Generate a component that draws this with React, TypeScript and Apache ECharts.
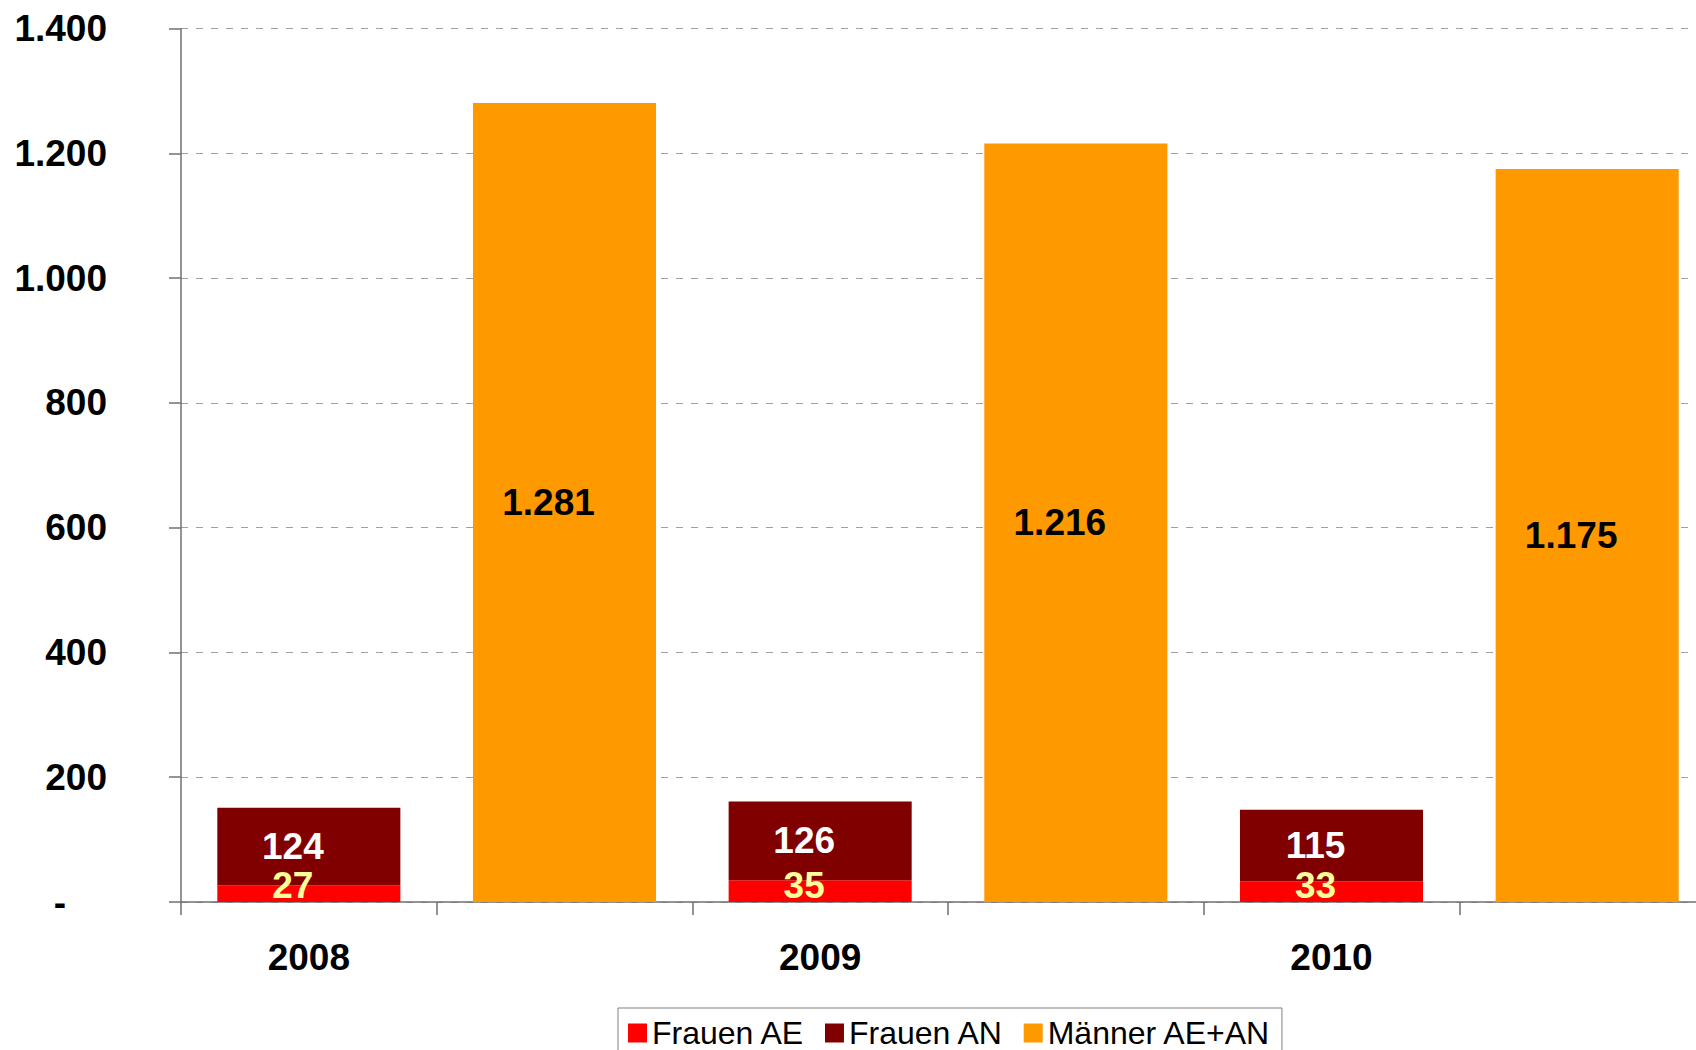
import React, { useEffect, useRef } from "react";
import * as echarts from "echarts";

const years = ["2008", "2009", "2010"];
const frauenAE = [27, 35, 33];
const frauenAN = [124, 126, 115];
const maenner = [1281, 1216, 1175];
const yTicks = [0, 200, 400, 600, 800, 1000, 1200, 1400];
const seriesNames = ["Frauen AE", "Frauen AN", "Männer AE+AN"];

const FONT = "'Liberation Sans', Arial, sans-serif";

function fmt(v: number): string {
  return String(v).replace(/\B(?=(\d{3})+(?!\d))/g, ".");
}

export default function App() {
  const ref = useRef<HTMLDivElement>(null);

  useEffect(() => {
    if (!ref.current) return;
    const chart = echarts.init(ref.current, null, { renderer: "svg" });

    // Each year: one slot for women (stacked), one slot for men
    const categories: string[] = [];
    years.forEach((y) => {
      categories.push(y);
      categories.push(y + "_m");
    });
    const aeData: (number | null)[] = [];
    const anData: (number | null)[] = [];
    const mData: (number | null)[] = [];
    years.forEach((_, i) => {
      aeData.push(frauenAE[i], null);
      anData.push(frauenAN[i], null);
      mData.push(null, maenner[i]);
    });

    const labelBase = {
      show: true,
      fontFamily: FONT,
      fontWeight: "bold" as const,
      fontSize: 37,
      offset: [-16, 0],
      formatter: (p: any) => fmt(p.value),
    };

    chart.setOption({
      animation: false,
      backgroundColor: "#ffffff",
      grid: {
        left: 181,
        top: 28.7,
        right: -19,
        bottom: 1050 - 902,
        containLabel: false,
        outerBoundsMode: "none",
      },
      legend: {
        data: seriesNames,
        left: 618,
        top: 1008,
        icon: "rect",
        itemWidth: 19,
        itemHeight: 19,
        itemGap: 20,
        padding: [9, 11, 3, 10],
        borderColor: "#808080",
        borderWidth: 1,
        textStyle: { fontFamily: FONT, fontSize: 32, color: "#000" },
      },
      xAxis: {
        type: "category",
        data: categories,
        axisLine: { show: true, lineStyle: { color: "#707070", width: 1.5 } },
        axisTick: { show: true, length: 13, lineStyle: { color: "#707070", width: 1.5 } },
        axisLabel: {
          interval: 0,
          margin: 37,
          fontFamily: FONT,
          fontWeight: "bold",
          fontSize: 37,
          color: "#000",
          formatter: (v: string) => (years.indexOf(v) >= 0 ? v : ""),
        },
      },
      yAxis: {
        type: "value",
        min: yTicks[0],
        max: yTicks[yTicks.length - 1],
        interval: yTicks[1] - yTicks[0],
        axisLine: { show: true, lineStyle: { color: "#707070", width: 1.5 } },
        axisTick: { show: true, length: 12, lineStyle: { color: "#707070", width: 1.5 } },
        splitLine: {
          show: true,
          lineStyle: { color: "#a0a0a0", type: [7, 8], width: 1 },
        },
        axisLabel: {
          margin: 74,
          fontFamily: FONT,
          fontWeight: "bold",
          fontSize: 37,
          color: "#000",
          formatter: (v: number) => (v === 0 ? "{d|-}" : fmt(v)),
          rich: {
            d: {
              fontFamily: FONT,
              fontWeight: "bold",
              fontSize: 37,
              color: "#000",
              padding: [0, 41, 0, 0],
            },
          },
        },
      },
      series: [
        {
          name: seriesNames[0],
          type: "bar",
          stack: "total",
          barWidth: "71.6%",
          data: aeData,
          itemStyle: { color: "#FF0000" },
          label: {
            ...labelBase,
            offset: [-16, 2],
            position: "insideBottom",
            distance: 0,
            color: "#FFFF99",
          },
        },
        {
          name: seriesNames[1],
          type: "bar",
          stack: "total",
          barWidth: "71.6%",
          data: anData,
          itemStyle: { color: "#800000" },
          label: { ...labelBase, position: "inside", color: "#FFFFFF" },
        },
        {
          name: seriesNames[2],
          type: "bar",
          stack: "total",
          barWidth: "71.6%",
          data: mData,
          itemStyle: { color: "#FF9900" },
          label: { ...labelBase, position: "inside", color: "#000000" },
        },
      ],
    });

    return () => chart.dispose();
  }, []);

  return (
    <div
      ref={ref}
      style={{ position: "absolute", left: 0, top: 0, width: 1696, height: 1050 }}
    />
  );
}
